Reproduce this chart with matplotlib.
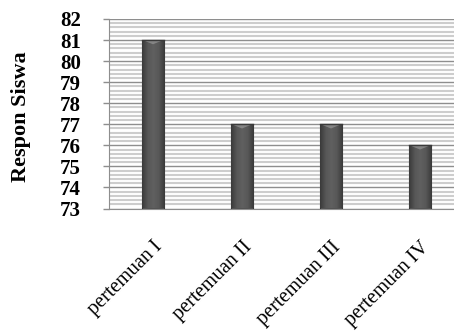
import numpy as np
import matplotlib
matplotlib.use("Agg")
import matplotlib.pyplot as plt
from matplotlib.patches import Polygon
from matplotlib.colors import LinearSegmentedColormap

categories = ["pertemuan I", "pertemuan II", "pertemuan III", "pertemuan IV"]
values = [81, 77, 77, 76]
y_ticks = list(range(73, 83))
y_label = "Respon Siswa"

plt.rcParams["font.family"] = ["Liberation Serif", "DejaVu Serif"]

fig = plt.figure(figsize=(4.54, 3.34), dpi=100)
ax = fig.add_axes([108.5 / 454, 1 - 208.5 / 334, 356 / 454, 189.5 / 334])

ymin, ymax = 73, 82
ax.set_ylim(ymin, ymax)
x = np.arange(len(categories))
ax.set_xlim(-0.5, len(categories) - 0.5)

# grid: light minor lines every 0.2, darker majors at integers
for yv in np.arange(ymin, ymax + 0.001, 0.2):
    if abs(yv - round(yv)) > 1e-6:
        ax.axhline(yv, color="#cdcdcd", lw=1.5, zorder=0)
for yv in y_ticks:
    ax.axhline(yv, color="#8e8e8e", lw=1.0, zorder=0.5)

bar_w = 0.25
bars = ax.bar(x, [v - ymin for v in values], bottom=ymin, width=bar_w,
              color="#525252", edgecolor="#333333", linewidth=0.8, zorder=2)

# shaded cylinder-like fill for each bar
shade = LinearSegmentedColormap.from_list(
    "shade", ["#3a3a3a", "#575757", "#606060", "#575757", "#3a3a3a"])
grad = np.linspace(0, 1, 64).reshape(1, -1)
for rect, v in zip(bars, values):
    x0 = rect.get_x()
    im = ax.imshow(grad, cmap=shade, aspect="auto", zorder=2.5,
                   extent=[x0, x0 + bar_w, ymin, v], interpolation="bilinear")
    im.set_clip_path(rect)
    # lighter bevel at the top
    tri = Polygon([[x0 + 0.01, v], [x0 + bar_w - 0.01, v],
                   [x0 + bar_w * 0.5, v - 0.2]], closed=True,
                  facecolor="#8c8c8c", edgecolor="none", alpha=0.85, zorder=3)
    ax.add_patch(tri)
    ax.plot([x0, x0 + bar_w], [v, v], color="#3a3a3a", lw=1.0, zorder=3.2)

ax.set_yticks(y_ticks)
ax.set_yticklabels([str(t) for t in y_ticks], fontsize=15, fontweight="bold")
ax.set_xticks(x)
ax.set_xticklabels(categories, rotation=45, ha="right", rotation_mode="anchor",
                   fontsize=14.5)
ax.tick_params(axis="y", length=4, width=1, color="#8e8e8e", pad=16)
ax.tick_params(axis="x", length=0, pad=21)

for side in ("top", "right"):
    ax.spines[side].set_visible(False)
ax.spines["left"].set_color("#8e8e8e")
ax.spines["bottom"].set_color("#8e8e8e")

fig.text(21 / 454, 1 - 117 / 334, y_label, rotation=90, fontsize=16,
         fontweight="bold", ha="center", va="center")

fig.savefig("out.png", dpi=100)
